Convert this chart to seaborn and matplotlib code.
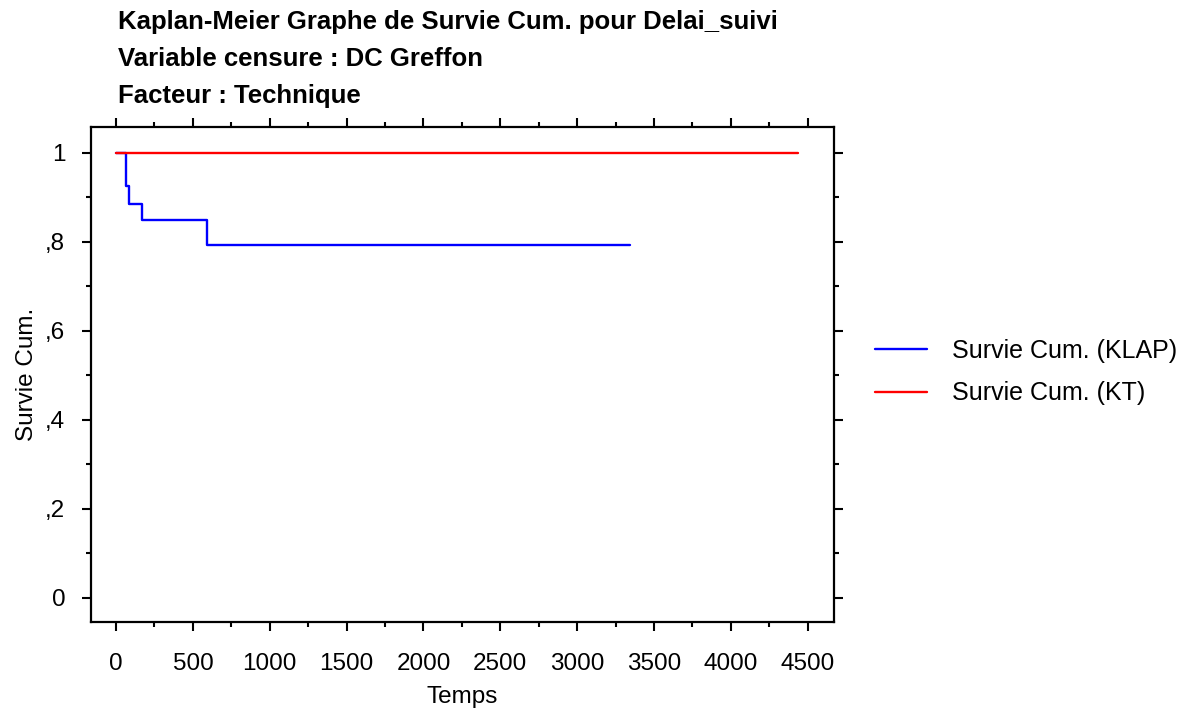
import matplotlib
matplotlib.use("Agg")
import matplotlib.pyplot as plt
import seaborn as sns
import pandas as pd
from matplotlib.ticker import MultipleLocator

# Data
klap_time = [0, 65, 85, 169, 590, 3344]
klap_surv = [1.0, 0.925, 0.884, 0.850, 0.792, 0.792]
kt_time = [0, 4435]
kt_surv = [1.0, 1.0]
groups = ["Survie Cum. (KLAP)", "Survie Cum. (KT)"]
title_lines = ["Kaplan-Meier Graphe de Survie Cum. pour Delai_suivi",
               "Variable censure : DC Greffon",
               "Facteur : Technique"]
ytick_vals = [0, 0.2, 0.4, 0.6, 0.8, 1.0]
ytick_labels = ["0", ",2", ",4", ",6", ",8", "1"]
xtick_vals = [0, 500, 1000, 1500, 2000, 2500, 3000, 3500, 4000, 4500]

df = pd.concat([
    pd.DataFrame({"Temps": klap_time, "Survie": klap_surv, "Groupe": groups[0]}),
    pd.DataFrame({"Temps": kt_time, "Survie": kt_surv, "Groupe": groups[1]}),
], ignore_index=True)

sns.set_style("white")
plt.rcParams['font.family'] = ['Liberation Sans', 'DejaVu Sans']
plt.rcParams['text.color'] = 'black'
plt.rcParams['axes.labelcolor'] = 'black'
plt.rcParams['xtick.color'] = 'black'
plt.rcParams['ytick.color'] = 'black'

fig = plt.figure(figsize=(12.04, 7.13), dpi=100)
ax = fig.add_axes([91/1204, 1-622/713, (834-91)/1204, (622-127)/713])

sns.lineplot(data=df, x="Temps", y="Survie", hue="Groupe",
             palette={groups[0]: "#0000FF", groups[1]: "#FF0000"},
             estimator=None, sort=False, drawstyle="steps-post",
             linewidth=1.7, ax=ax)

ax.set_xlim(-163, 4671)
ax.set_ylim(-0.054, 1.058)
ax.set_xticks(xtick_vals)
ax.set_xticklabels([str(v) for v in xtick_vals])
ax.set_yticks(ytick_vals)
ax.set_yticklabels(ytick_labels)
ax.xaxis.set_minor_locator(MultipleLocator(250))
ax.yaxis.set_minor_locator(MultipleLocator(0.1))
ax.tick_params(which="both", direction="out", top=True, right=True,
               bottom=True, left=True, labelsize=17.5, width=1.5, color="black",
               labelcolor="black")
ax.tick_params(which="major", length=6.5)
ax.tick_params(which="minor", length=3.5)
ax.tick_params(axis="x", which="major", pad=16)
ax.tick_params(axis="y", which="major", pad=12)
for s in ax.spines.values():
    s.set_linewidth(1.6)
    s.set_color("black")
    s.set_visible(True)

ax.set_xlabel("Temps", fontsize=17.5, labelpad=8, color="black")
ax.set_ylabel("Survie Cum.", fontsize=17.5, labelpad=5, color="black")

leg = ax.legend(loc="center left", bbox_to_anchor=(852/1204, 1-372/713),
                bbox_transform=fig.transFigure, frameon=False, fontsize=18,
                handlelength=2.1, handletextpad=1.0, labelspacing=0.75)
for t in leg.get_texts():
    t.set_color("black")

ys = [22, 59, 96]
for line, y in zip(title_lines, ys):
    fig.text(118/1204, 1-y/713, line, fontsize=18.5, fontweight="bold",
             ha="left", va="center", color="black")

fig.savefig("out.png", dpi=100)
